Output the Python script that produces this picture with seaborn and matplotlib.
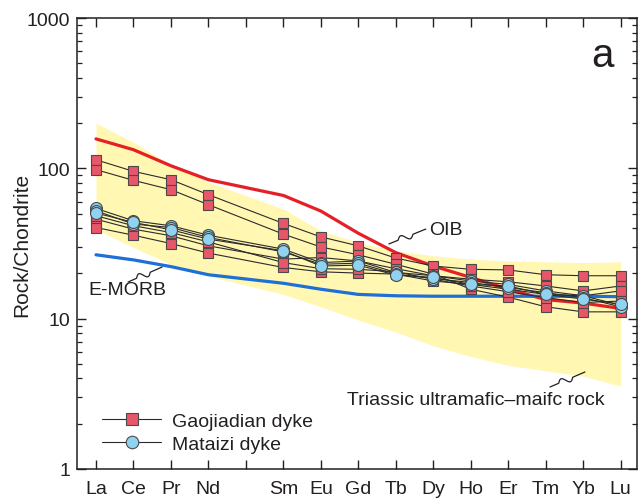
import numpy as np
import pandas as pd
import matplotlib
matplotlib.use("Agg")
import matplotlib.pyplot as plt
import seaborn as sns
from matplotlib.lines import Line2D
from matplotlib.ticker import FixedLocator, FixedFormatter, LogLocator, NullFormatter

# ---------------- data ----------------
elements = ["La", "Ce", "Pr", "Nd", "Sm", "Eu", "Gd", "Tb", "Dy", "Ho", "Er", "Tm", "Yb", "Lu"]
tick_labels = ["La", "Ce", "Pr", "Nd", "", "Sm", "Eu", "Gd", "Tb", "Dy", "Ho", "Er", "Tm", "Yb", "Lu"]

gjd_1 = [114, 95.5, 84, 66.8, 43, 35, 30.5, 25.3, 22.4, 21.3, 21.1, 19.6, 19.3, 19.3]
gjd_2 = [98, 83.2, 72.1, 57.3, 36.5, 30, 26.6, 23, 19.8, 15.7, 13.9, 12.0, 11.1, 11.1]
gjd_3 = [45.9, 39.4, 35.6, 30.5, 24.9, 25.5, 24.2, 21.5, 19.3, 18.3, 17.6, 16.5, 15.3, 16.5]
gjd_4 = [40.4, 35.9, 31.6, 27.3, 21.9, 20.5, 20.1, 19.8, 17.8, 16.9, 15.7, 14.5, 14.2, 15.3]
gjd_5 = [48.4, 41.5, 37.4, 32.4, 23.6, 21.5, 21.3, 20.5, 18.3, 16.5, 15.1, 13.8, 12.8, 13.1]

mtz_1 = [54.1, 44.8, 41.5, 35.9, 29.0, 23.6, 24.2, 20.3, 19.3, 17.8, 16.9, 15.3, 14.2, 12.3]
mtz_2 = [52.2, 42.6, 40.4, 34.7, 27.8, 23.0, 23.4, 19.8, 18.5, 17.4, 16.1, 14.9, 13.8, 12.0]
mtz_3 = [50.4, 43.7, 39.0, 33.8, 28.3, 22.4, 22.7, 19.5, 18.8, 16.9, 16.5, 14.5, 13.5, 12.5]

oib = [157, 133, 104, 84, 66, 52, 37, 27.5, 22.4, 18.8, 15.7, 13.4, 12.7, 11.7]
emorb = [26.6, 24.6, 22.2, 19.6, 17.2, 15.7, 14.5, 14.2, 14.1, 14.1, 14.1, 14.1, 14.1, 14.0]

field_upper = [200, 149, 106, 81, 53.6, 38.4, 32.1, 28.3, 26.2, 24.9, 24.2, 23.9, 23.6, 23.9]
field_lower = [39.4, 29.7, 23.0, 19.2, 14.5, 12.0, 9.8, 8.15, 6.6, 5.6, 4.9, 4.5, 4.15, 3.56]

group_names = ["Gaojiadian dyke", "Mataizi dyke"]
annot_oib = "OIB"
annot_emorb = "E-MORB"
annot_field = "Triassic ultramafic\u2013maifc rock"
panel_label = "a"
y_label = "Rock/Chondrite"

# ---------------- style ----------------
sns.set_style("ticks")
plt.rcParams["font.family"] = ["Liberation Sans", "DejaVu Sans"]
plt.rcParams["text.color"] = "#231f20"
plt.rcParams["axes.labelcolor"] = "#231f20"
plt.rcParams["xtick.color"] = "#231f20"
plt.rcParams["ytick.color"] = "#231f20"

INK = "#231f20"
LINE = "#2b2b2b"
SQ_FACE = "#e8566a"
CI_FACE = "#8fd3f1"
MK_EDGE = "#4a4a4a"
OIB_C = "#e41f26"
EMORB_C = "#1e6fd6"
FIELD_C = "#fff7b2"

xpos = [tick_labels.index(e) for e in elements]

def long_frame(samples, prefix):
    rows = []
    for i, s in enumerate(samples):
        for e, v in zip(elements, s):
            rows.append({"x": tick_labels.index(e), "value": v, "sample": f"{prefix}{i}"})
    return pd.DataFrame(rows)

df_g = long_frame([gjd_1, gjd_2, gjd_3, gjd_4, gjd_5], "G")
df_m = long_frame([mtz_1, mtz_2, mtz_3], "M")
df_ref = pd.DataFrame({"x": xpos * 2, "value": oib + emorb,
                       "ref": ["OIB"] * len(oib) + ["E-MORB"] * len(emorb)})

fig = plt.figure(figsize=(6.40, 5.02), dpi=100)
ax = fig.add_axes([77.3 / 640, 1 - 470 / 502, (636.7 - 77.3) / 640, 451 / 502])

ax.fill_between(xpos, field_lower, field_upper, color=FIELD_C, lw=0, zorder=1)

sns.lineplot(data=df_ref, x="x", y="value", hue="ref", palette={"OIB": OIB_C, "E-MORB": EMORB_C},
             lw=2.3, legend=False, sort=False, ax=ax, zorder=2)

sns.lineplot(data=df_g, x="x", y="value", units="sample", estimator=None, sort=False,
             color=LINE, lw=0.8, marker="s", markersize=7.6, markerfacecolor=SQ_FACE,
             markeredgecolor=MK_EDGE, markeredgewidth=0.8, legend=False, ax=ax, zorder=3)
sns.lineplot(data=df_m, x="x", y="value", units="sample", estimator=None, sort=False,
             color=LINE, lw=0.8, marker="o", markersize=8.6, markerfacecolor=CI_FACE,
             markeredgecolor=MK_EDGE, markeredgewidth=0.8, legend=False, ax=ax, zorder=4)

# ---------------- axes ----------------
ax.set_yscale("log")
ax.set_ylim(1, 1000)
ax.set_xlim(-0.499, 14.43)
ax.yaxis.set_major_locator(FixedLocator([1, 10, 100, 1000]))
ax.yaxis.set_major_formatter(FixedFormatter(["1", "10", "100", "1000"]))
ax.yaxis.set_minor_locator(LogLocator(base=10, subs=np.arange(2, 10)))
ax.yaxis.set_minor_formatter(NullFormatter())
ax.xaxis.set_major_locator(FixedLocator(list(range(len(tick_labels)))))
ax.xaxis.set_major_formatter(FixedFormatter(tick_labels))

ax.tick_params(axis="both", which="major", direction="in", length=6.5, width=1.0,
               labelsize=14, top=True, right=True)
ax.tick_params(axis="y", which="minor", direction="in", length=3.5, width=0.9, right=True)
ax.tick_params(axis="x", which="major", pad=8)
ax.tick_params(axis="y", which="major", pad=5)
for sp in ax.spines.values():
    sp.set_visible(True)
    sp.set_linewidth(1.1)
    sp.set_color(INK)

ax.set_xlabel("")
ax.set_ylabel(y_label, fontsize=15, labelpad=-3)

# ---------------- annotations ----------------
AXW, AXH = 559.4, 451.0

def squiggle(p0, p1, amp=3.2):
    x0, y0 = p0[0] * AXW, p0[1] * AXH
    x1, y1 = p1[0] * AXW, p1[1] * AXH
    t = np.linspace(0, 1, 80)
    dx, dy = x1 - x0, y1 - y0
    L = np.hypot(dx, dy)
    nx, ny = -dy / L, dx / L
    w = np.where((t > 0.25) & (t < 0.65), amp * np.sin(2 * np.pi * (t - 0.25) / 0.4), 0.0)
    xs = x0 + dx * t + nx * w
    ys = y0 + dy * t + ny * w
    ax.plot(xs / AXW, ys / AXH, transform=ax.transAxes, color=INK, lw=0.9,
            clip_on=False, zorder=6)

squiggle((0.557, 0.499), (0.623, 0.532))
ax.text(0.629, 0.532, annot_oib, transform=ax.transAxes, fontsize=14, ha="left", va="center")
squiggle((0.0908, 0.4146), (0.1516, 0.4479))
ax.text(0.019, 0.397, annot_emorb, transform=ax.transAxes, fontsize=14, ha="left", va="center")
squiggle((0.845, 0.1818), (0.9075, 0.2151))
ax.text(0.482, 0.153, annot_field, transform=ax.transAxes, fontsize=14, ha="left", va="center")
ax.text(0.938, 0.918, panel_label, transform=ax.transAxes, fontsize=29, ha="center", va="center")

handles = [
    Line2D([], [], color=LINE, lw=0.8, marker="s", markersize=8.6, markerfacecolor=SQ_FACE,
           markeredgecolor=MK_EDGE, markeredgewidth=0.8),
    Line2D([], [], color=LINE, lw=0.8, marker="o", markersize=9.0, markerfacecolor=CI_FACE,
           markeredgecolor=MK_EDGE, markeredgewidth=0.8),
]
ax.legend(handles, group_names, loc="lower left", bbox_to_anchor=(0.045, 0.035),
          frameon=False, fontsize=14, handlelength=3.0, handletextpad=0.6,
          labelspacing=0.3, borderpad=0, borderaxespad=0)

fig.savefig("out.png", dpi=100)
